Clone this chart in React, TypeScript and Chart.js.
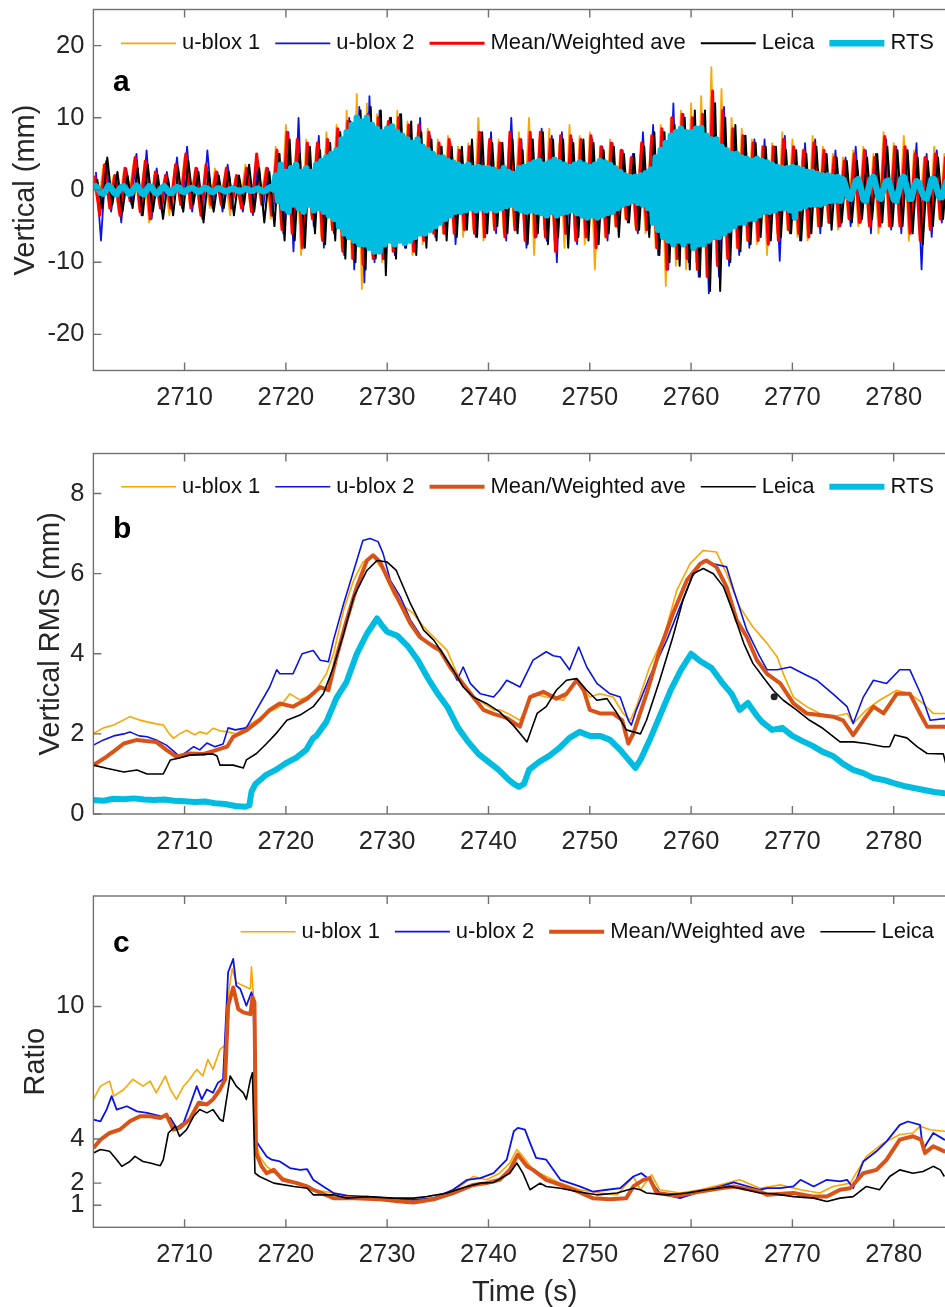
import React, { useEffect, useRef } from "react";
import { Chart, registerables } from "chart.js";
Chart.register(...registerables);

const FONT = '"Liberation Sans", Arial, Helvetica, sans-serif';

// ---------- shared time axis ----------
const timeStart = 2701;
const timeEnd = 2786.15;
const timeTicks = [2710, 2720, 2730, 2740, 2750, 2760, 2770, 2780];

// ---------- panel a: vertical displacement (mm) ----------
// GNSS series: one sample every 0.5 s; each receiver has its own first epoch
const vertStep = 0.5;
const vertStartUblox1 = 2701.0;
const vertStartUblox2 = 2701.25;
const vertStartMean = 2701.12;
const vertStartLeica = 2701.37;
// RTS series: one sample every 0.25 s from 2701 s
const vertStartRTS = 2701.0;
const vertStepRTS = 0.25;

const vertUblox1 = [
  1.0, -2.0, 3.5, -1.5, 2.0, -3.0, 2.5, -1.0, 4.0, -2.5, 3.0, -4.5, 2.0, -2.0, 1.5, -3.5, 3.0, -1.5, 4.5, -2.0,
  2.5, -3.0, 1.5, -2.5, 3.0, -1.0, 2.0, -3.5, 1.5, -2.0, 3.5, -2.5, 2.0, -1.5, 3.0, -4.0,
  6.0, -5.0, 9.0, -4.0, 5.5, -9.0, 7.0, -3.5, 6.0, -6.5, 8.0, -5.0,
  9.0, -8.0, 11.0, -9.5, 13.3, -13.7, 12.0, -9.0, 10.5, -10.0, 9.0, -8.5, 11.0, -7.0, 9.5, -9.0, 8.0, -7.5, 8.5, -6.0, 7.0,
  -6.0, 7.5, -5.0, 6.0, -6.5, 6.5, -5.5, 10.0, -7.0, 6.5,
  -5.0, 7.0, -6.0, 6.0, -5.0, 8.0, -4.5, 10.0, -9.0, 7.0, -5.5, 8.5, -7.0, 6.5, -8.0, 9.0, -6.0, 7.5, -7.5, 8.0,
  -11.0, 6.0, -6.5, 7.0, -5.0, 5.5, -4.0, 4.5, -5.0, 5.0, -6.0, 6.5,
  -8.0, 9.0, -13.3, 10.0, -10.5, 11.0, -11.0, 12.0, -10.0, 13.0, -12.0, 17.0, -10.0, 14.0, -9.0, 10.0, -8.0, 8.5, -7.0, 7.0,
  -7.5, 6.0, -9.0, 6.5, -6.0, 8.0, -5.5, 7.0, -6.5, 5.5, -7.0, 7.5, -5.0, 6.0, -4.5, 5.0, -5.5, 4.5,
  -4.0, 5.5, -5.0, 6.0, -4.5, 5.0, -6.0, 8.0, -5.0, 6.5, -4.5, 7.5, -7.0, 5.5, -4.0, 4.5, -5.0, 6.0, -4.0, 5.0, -3.5, 4.0,
];
const vertUblox2 = [
  2.5, -7.0, 4.0, -3.0, 2.0, -4.5, 3.0, -2.0, 5.0, -3.5, 5.5, -4.0, 3.0, -3.0, 2.5, -2.0, 4.5, -2.5, 6.0, -3.0,
  3.0, -4.0, 5.5, -2.5, 2.5, -3.0, 3.5, -1.5, 2.0, -3.0, 2.5, -3.5, 4.0, -2.5, 3.0, -3.0,
  5.0, -6.0, 8.0, -8.5, 10.0, -7.0, 6.0, -5.0, 7.5, -8.0, 6.5, -6.0,
  8.0, -9.0, 10.0, -11.0, 11.5, -12.8, 13.0, -10.0, 11.0, -9.5, 10.0, -9.0, 10.5, -8.0, 9.0, -8.5, 10.0, -7.0, 7.5, -6.5, 6.0,
  -6.0, 6.5, -7.5, 5.5, -5.0, 6.0, -6.5, 7.0, -5.5, 8.0,
  -6.0, 6.5, -7.0, 10.0, -5.5, 7.0, -8.0, 6.0, -6.5, 8.5, -7.0, 7.5, -10.0, 8.0, -5.5, 7.0, -7.5, 6.5, -6.0, 7.0,
  -5.0, 6.0, -7.0, 6.5, -5.0, 5.5, -4.5, 5.0, -6.0, 8.0, -5.5, 9.0,
  -9.0, 8.0, -11.0, 12.0, -9.0, 10.5, -10.0, 10.0, -12.0, 9.5, -14.3, 11.0, -12.0, 11.5, -10.5, 8.0, -9.0, 7.5, -8.0, 7.0,
  -6.0, 7.0, -6.5, 6.0, -9.8, 7.5, -6.0, 5.5, -7.0, 6.5, -5.5, 7.0, -6.0, 5.0, -4.5, 5.5, -5.0, 4.5,
  -5.0, 6.0, -4.5, 5.5, -6.0, 5.0, -4.5, 7.0, -5.5, 6.0, -6.0, 5.5, -5.0, 6.5, -11.0, 5.0, -6.5, 5.5, -4.5, 6.0, -4.0, 5.0,
];
const vertMean = [
  2.0, -3.5, 3.5, -2.5, 2.0, -3.5, 3.0, -1.5, 4.5, -3.0, 4.0, -4.0, 2.5, -2.5, 2.0, -2.5, 3.5, -2.0, 5.0, -2.5,
  3.0, -3.5, 3.5, -2.0, 2.5, -2.0, 3.0, -2.5, 2.0, -2.5, 3.0, -3.0, 5.0, -2.0, 3.0, -3.5,
  5.5, -5.5, 8.0, -6.0, 7.0, -8.0, 6.5, -4.0, 6.5, -7.0, 7.0, -5.5,
  8.5, -8.5, 9.5, -9.5, 10.0, -10.3, 10.5, -9.5, 10.0, -9.5, 9.5, -8.5, 10.0, -7.5, 9.0, -8.5, 9.0, -7.0, 8.0, -6.0, 6.5,
  -6.0, 7.0, -6.0, 5.5, -5.5, 6.0, -6.0, 8.0, -6.5, 7.0,
  -5.5, 6.5, -6.5, 8.0, -5.5, 7.0, -7.0, 8.0, -6.5, 8.0, -6.5, 7.0, -8.5, 7.5, -6.0, 7.5, -7.0, 7.0, -6.5, 7.5,
  -8.0, 6.0, -6.5, 6.5, -5.0, 5.5, -4.0, 4.5, -5.5, 6.5, -5.5, 7.5,
  -8.0, 8.5, -11.0, 10.0, -9.5, 10.5, -9.5, 10.0, -11.0, 10.5, -12.0, 13.7, -10.5, 11.0, -9.5, 8.5, -8.0, 7.5, -7.0, 6.5,
  -7.0, 6.0, -7.5, 6.0, -7.0, 7.0, -5.5, 6.0, -6.0, 5.5, -6.5, 6.5, -5.0, 5.5, -4.5, 4.5, -5.0, 4.0,
  -4.0, 5.0, -4.5, 5.5, -5.0, 4.5, -5.0, 7.4, -5.0, 6.0, -5.0, 6.0, -6.0, 5.0, -7.0, 4.5, -5.5, 5.0, -4.0, 4.5, -3.5, 4.0,
];
const vertLeica = [
  1.5, -2.5, 4.5, -2.0, 2.5, -3.0, 2.0, -2.5, 3.0, -3.5, 3.5, -3.0, 2.0, -4.0, 1.5, -3.5, 3.0, -3.0, 4.0, -2.0,
  2.5, -4.5, 2.5, -3.0, 2.0, -2.5, 2.5, -3.5, 2.0, -2.0, 3.5, -3.0, 3.0, -4.5, 2.5, -5.0,
  5.0, -7.0, 7.0, -7.0, 5.0, -8.0, 6.0, -6.0, 5.5, -7.5, 6.5, -7.0,
  8.0, -9.5, 9.5, -10.0, 11.0, -11.0, 11.5, -9.5, 11.0, -11.8, 10.0, -9.5, 10.5, -8.0, 9.5, -9.0, 8.0, -8.0, 7.0, -7.0, 6.0,
  -7.0, 6.0, -6.5, 6.0, -5.5, 7.0, -6.5, 8.0, -6.0, 6.5,
  -5.0, 6.5, -6.0, 7.0, -6.0, 5.5, -7.5, 7.0, -6.0, 8.0, -7.5, 7.0, -6.5, 7.0, -8.0, 6.5, -6.5, 7.0, -7.0, 6.5,
  -7.5, 5.5, -6.0, 6.0, -6.5, 5.0, -4.5, 5.0, -5.5, 6.0, -6.5, 8.0,
  -9.0, 8.0, -10.0, 9.0, -10.5, 10.0, -11.0, 11.0, -12.0, 11.0, -14.0, 12.0, -14.0, 10.0, -10.0, 9.0, -8.5, 7.5, -7.5, 6.5,
  -6.5, 6.0, -7.0, 6.0, -6.5, 5.5, -6.0, 5.5, -7.0, 5.0, -6.0, 6.0, -5.0, 5.0, -5.5, 4.5, -4.5, 4.0,
  -4.5, 4.0, -4.0, 4.5, -4.0, 5.0, -4.5, 6.0, -5.0, 5.5, -5.0, 5.5, -6.0, 4.5, -7.5, 4.0, -5.0, 4.5, -4.0, 4.0, -3.5, 3.5,
];
const vertRTS = [
  // 2701 - 2710
  0.3, 0.5, 0.1, -0.4, -0.5, 0.0, 0.6, 0.3, -0.3, -0.6, -0.1, 0.4, 0.5, 0.0, -0.5, -0.4, 0.2, 0.6, 0.2, -0.4,
  -0.6, 0.0, 0.5, 0.4, -0.2, -0.5, -0.2, 0.3, 0.5, 0.1, -0.4, -0.4, 0.1, 0.4, 0.3, -0.2, -0.3,
  // 2710.25 - 2718.75
  0.0, 0.2, 0.3, 0.1, -0.2, -0.2, 0.1, 0.3, 0.2, -0.1, -0.3, -0.1, 0.2, 0.2, 0.0, -0.2, -0.1, 0.1, 0.2, 0.1,
  -0.1, -0.2, 0.0, 0.2, 0.1, -0.1, -0.1, 0.1, 0.2, 0.0, -0.2, -0.1, 0.2, 0.4, 0.1,
  // 2719 - 2724.75
  2.0, -1.5, 3.5, -2.5, 2.5, -3.0, 3.0, -2.0, 3.5, -2.5, 2.5, -3.0, 3.0, -2.0, 2.5, -2.8, 3.5, -2.5, 4.0, -3.0,
  4.5, -3.5, 5.0, -4.0,
  // 2725 - 2735
  5.5, -5.0, 7.0, -6.0, 8.0, -6.5, 9.0, -7.0, 10.0, -7.5, 9.5, -7.5, 10.0, -8.0, 9.0, -8.5, 8.5, -8.5, 8.0, -7.5,
  8.5, -7.0, 8.8, -7.5, 8.0, -7.0, 7.5, -7.3, 7.0, -7.0, 6.5, -6.5, 7.0, -6.0, 6.0, -6.0, 5.5, -5.5, 5.0, -5.0, 4.5,
  // 2735.25 - 2740
  -4.5, 4.5, -4.0, 4.0, -3.5, 3.8, -3.0, 3.5, -3.0, 3.2, -2.8, 3.5, -2.5, 3.0, -2.8, 3.2, -2.5, 3.0, -2.8, 3.0,
  // 2740.25 - 2756
  -2.5, 2.8, -2.8, 2.5, -2.5, 3.0, -2.2, 2.5, -2.0, 2.2, -2.5, 3.0, -2.8, 3.2, -3.0, 3.5, -2.8, 3.8, -3.0, 4.0,
  -3.2, 3.5, -3.5, 3.8, -3.0, 4.2, -3.5, 3.8, -3.2, 3.5, -3.0, 3.2, -2.8, 3.5, -3.2, 3.8, -3.5, 3.5, -3.8, 3.2,
  -3.5, 3.5, -3.8, 4.0, -3.5, 3.8, -3.2, 3.5, -3.0, 3.0,
  -2.5, 2.5, -2.0, 2.0, -1.8, 1.8, -1.5, 1.8, -1.8, 2.0, -2.0, 2.3, -2.5, 2.8,
  // 2756.25 - 2766
  -4.5, 4.5, -5.5, 5.5, -6.5, 6.5, -7.0, 7.5, -7.5, 8.0, -7.0, 8.5, -7.5, 8.0, -7.0, 8.0, -8.0, 8.5, -7.5, 8.6,
  -7.5, 7.5, -7.0, 7.0, -6.5, 7.0, -6.5, 6.0, -6.0, 5.5, -5.5, 5.0, -5.0, 5.0, -4.5, 4.5, -4.5, 4.3, -4.0, 4.0,
  // 2766.25 - 2775
  -4.0, 4.3, -3.5, 4.0, -3.0, 3.8, -3.0, 3.5, -2.8, 3.2, -2.5, 3.0, -2.5, 3.0, -2.8, 3.2, -3.8, 3.0, -2.5, 2.8,
  -2.2, 2.5, -2.0, 2.5, -2.0, 2.2, -2.0, 2.0, -1.8, 2.0, -1.5, 1.8, -1.5, 1.8, -1.5, 1.5,
  // 2775.25 - 2786
  0.5, -1.0, -1.2, 0.0, 1.2, 1.5, 0.3, -1.3, -1.5, 0.0, 1.5, 1.8, 0.5, -1.0, -1.2, 0.2, 1.2, 1.3, 0.0, -1.3,
  -1.5, -0.2, 1.5, 1.8, 0.5, -1.2, -1.2, 0.3, 1.2, 1.0, -0.2, -1.0, -1.2, 0.0, 1.5, 1.5, 0.2, -1.0, -1.0, 0.2,
  1.2, 0.8, -0.5, -0.8,
];
const vertTicks = [-20, -10, 0, 10, 20];

// ---------- panel b: vertical RMS (mm), [time s, value] ----------
const rmsUblox1: [number, number][] = [
  [2701, 2.01], [2702, 2.15], [2703, 2.22], [2704, 2.35], [2704.6, 2.43], [2705.5, 2.35], [2706.3, 2.3], [2707.2, 2.25],
  [2707.9, 2.22], [2708.5, 2.0], [2708.9, 1.89], [2709.5, 2.0], [2710.2, 2.09], [2711, 1.98], [2711.5, 2.05], [2712.2, 2.0],
  [2712.8, 2.14], [2713.5, 2.08], [2714.2, 2.05], [2715.1, 2.0], [2716.1, 2.18], [2717.1, 2.34], [2718.1, 2.51], [2719.4, 2.68],
  [2720.4, 3.0], [2721.4, 2.85], [2722.7, 3.0], [2724, 3.5], [2724.7, 4.0], [2725.7, 5.09], [2726.7, 5.84], [2727.6, 6.29],
  [2728.6, 6.42], [2729.6, 6.08], [2730.6, 5.5], [2731.3, 5.25], [2732.6, 5.0], [2733.6, 4.67], [2734.6, 4.42], [2735.9, 4.09],
  [2736.9, 3.5], [2738.2, 3.0], [2739.5, 2.76], [2740.5, 2.6], [2741.1, 2.6], [2742, 2.5], [2743.1, 2.34], [2744.4, 3.0],
  [2745.7, 2.92], [2747.4, 2.84], [2748.7, 3.38], [2750, 2.92], [2751, 3.0], [2752.3, 2.92], [2753.3, 2.51], [2754, 2.34],
  [2754.6, 2.68], [2755.9, 3.67], [2757.3, 4.42], [2758.6, 5.59], [2759.9, 6.25], [2761.2, 6.58], [2762.5, 6.54], [2763.5, 6.0],
  [2764.8, 5.17], [2766.1, 4.67], [2767.5, 4.26], [2768.5, 3.92], [2769.1, 3.5], [2770.1, 2.92], [2771.4, 2.68], [2772.7, 2.51],
  [2774, 2.43], [2775.4, 2.51], [2776, 2.26], [2777.3, 2.6], [2778.6, 2.84], [2780.3, 3.09], [2781.6, 3.0], [2782.9, 2.76],
  [2783.9, 2.51], [2785, 2.51], [2786, 2.5],
];
const rmsUblox2: [number, number][] = [
  [2701, 1.72], [2702, 1.85], [2703, 1.95], [2704, 2.0], [2704.6, 2.05], [2705.5, 1.95], [2706.3, 1.93], [2707.2, 1.85],
  [2708.2, 1.72], [2709, 1.55], [2709.5, 1.43], [2710.2, 1.55], [2710.9, 1.68], [2711.5, 1.6], [2712.2, 1.77], [2713, 1.68],
  [2713.8, 1.75], [2714.3, 2.15], [2715, 2.1], [2716.1, 2.15], [2717.1, 2.6], [2718.4, 3.17], [2719.1, 3.6], [2719.4, 3.5],
  [2720.7, 3.5], [2721.6, 4.0], [2722.7, 4.08], [2723.4, 3.84], [2724.2, 3.8], [2724.7, 4.34], [2725.7, 5.25], [2726.7, 6.08],
  [2727.6, 6.83], [2728.3, 6.88], [2729.1, 6.8], [2729.6, 6.5], [2730.3, 5.84], [2731.3, 5.42], [2732.3, 4.84], [2733.6, 4.34],
  [2734.9, 4.17], [2735.9, 3.84], [2736.9, 3.34], [2737.5, 3.67], [2738.2, 3.26], [2739.2, 3.0], [2740.5, 2.92], [2741.1, 3.09],
  [2741.8, 3.34], [2742.5, 3.25], [2743.1, 3.17], [2744.4, 3.84], [2745.7, 4.05], [2746.4, 3.95], [2747.1, 3.92], [2748, 3.6],
  [2748.9, 4.17], [2749.7, 3.67], [2750.7, 3.26], [2752, 3.0], [2753, 2.92], [2753.8, 2.34], [2754.1, 2.22], [2754.6, 2.6],
  [2755.9, 3.42], [2757.6, 4.34], [2758.9, 5.17], [2760.1, 5.92], [2761.2, 6.33], [2762.2, 6.25], [2763.5, 6.17], [2764.2, 5.59],
  [2765.5, 4.59], [2766.8, 3.92], [2767.5, 3.6], [2768.5, 3.6], [2769.8, 3.67], [2771.1, 3.5], [2772.4, 3.34], [2774, 3.0],
  [2775.4, 2.68], [2776, 2.26], [2777, 2.92], [2778, 3.34], [2779.3, 3.26], [2780.6, 3.6], [2781.6, 3.6], [2782.8, 2.92],
  [2783.6, 2.34], [2785, 2.38], [2786, 2.4],
];
const rmsMean: [number, number][] = [
  [2701, 1.22], [2702.3, 1.43], [2703.2, 1.6], [2704, 1.76], [2705.3, 1.85], [2706.2, 1.82], [2707.2, 1.8], [2708.2, 1.6],
  [2709.2, 1.43], [2710.5, 1.51], [2711.9, 1.5], [2713.2, 1.6], [2714.2, 1.68], [2714.8, 1.93], [2716.1, 2.09], [2717.4, 2.34],
  [2718.4, 2.6], [2719.4, 2.76], [2720.7, 2.68], [2722.1, 2.88], [2723.4, 3.17], [2724.2, 3.09], [2725, 3.92], [2726, 4.84],
  [2727, 5.67], [2728, 6.33], [2728.6, 6.46], [2729.3, 6.29], [2730.3, 5.75], [2731.3, 5.25], [2732.3, 4.75], [2733.2, 4.42],
  [2734.6, 4.17], [2735.2, 4.09], [2736.2, 3.67], [2737.2, 3.34], [2738.5, 2.92], [2739.5, 2.6], [2740.5, 2.5], [2741.8, 2.4],
  [2743.1, 2.18], [2744.1, 2.92], [2745.4, 3.05], [2746.7, 2.88], [2747.7, 3.0], [2748.7, 3.34], [2749.4, 3.09], [2750, 2.6],
  [2751, 2.51], [2752.3, 2.51], [2753.2, 2.34], [2753.8, 1.76], [2754.3, 2.01], [2755.6, 3.0], [2756.9, 4.09], [2758.2, 5.0],
  [2759.6, 5.84], [2760.9, 6.25], [2761.5, 6.33], [2762.5, 6.17], [2763.5, 5.67], [2764.5, 4.84], [2765.5, 4.42], [2766.5, 3.84],
  [2767.5, 3.5], [2768.8, 3.26], [2770.1, 2.76], [2771.4, 2.51], [2772.7, 2.47], [2774, 2.43], [2775, 2.34], [2776, 1.97],
  [2777, 2.34], [2778, 2.68], [2779, 2.51], [2780.3, 3.0], [2781.6, 3.0], [2782.6, 2.51], [2783.3, 2.18], [2785, 2.18],
  [2786, 2.1],
];
const rmsLeica: [number, number][] = [
  [2701, 1.22], [2702.3, 1.14], [2704, 1.05], [2705.3, 1.1], [2706.3, 1.0], [2707.9, 1.0], [2708.6, 1.35], [2709.5, 1.4],
  [2710.5, 1.47], [2712.8, 1.5], [2713.2, 1.45], [2713.5, 1.22], [2714.8, 1.22], [2715.8, 1.15], [2716.1, 1.35], [2717.1, 1.51],
  [2718.1, 1.76], [2719, 2.0], [2720.1, 2.34], [2721.4, 2.47], [2722.7, 2.68], [2723.7, 3.0], [2724.7, 3.67], [2725.7, 4.5],
  [2726.7, 5.42], [2728, 6.08], [2729, 6.33], [2730, 6.29], [2730.9, 6.08], [2732.3, 5.25], [2733.6, 4.59], [2734.6, 4.34],
  [2735.5, 4.0], [2736.5, 3.6], [2737.5, 3.17], [2738.5, 2.92], [2739.8, 2.76], [2741.1, 2.55], [2742.5, 2.2], [2743.8, 1.8],
  [2744.8, 2.51], [2745.7, 2.68], [2746.7, 3.09], [2747.7, 3.34], [2748.7, 3.38], [2749.7, 3.09], [2750.7, 2.84], [2751.7, 2.88],
  [2752.7, 2.51], [2753.6, 2.1], [2755, 2.0], [2755.6, 2.34], [2756.9, 3.34], [2758.2, 4.42], [2759.2, 5.34], [2760.2, 6.0],
  [2761.2, 6.13], [2762.2, 6.0], [2763.2, 5.67], [2764.2, 5.0], [2765.2, 4.26], [2766.1, 3.76], [2767.1, 3.42], [2768.1, 3.09],
  [2769.1, 2.84], [2770.4, 2.6], [2771.7, 2.34], [2773, 2.14], [2774.7, 1.8], [2776, 1.8], [2777.3, 1.76], [2779, 1.68],
  [2779.6, 1.68], [2780.1, 1.97], [2781.3, 1.9], [2782.3, 1.68], [2783.3, 1.51], [2784.9, 1.5], [2785.2, 1.2],
];
const rmsRTS: [number, number][] = [
  [2701, 0.35], [2702, 0.33], [2703, 0.38], [2704, 0.37], [2705, 0.39], [2706, 0.36], [2707, 0.35], [2708, 0.36],
  [2709, 0.33], [2710, 0.32], [2711, 0.3], [2712, 0.31], [2713, 0.27], [2714, 0.25], [2715, 0.2], [2716, 0.18],
  [2716.4, 0.22], [2716.6, 0.55], [2717, 0.75], [2718, 0.97], [2719, 1.1], [2720, 1.27], [2721, 1.4], [2722, 1.6],
  [2722.7, 1.9], [2723, 1.95], [2724, 2.3], [2725, 2.9], [2726, 3.3], [2727, 4.0], [2728, 4.5], [2729, 4.88],
  [2729.5, 4.7], [2730, 4.55], [2731, 4.45], [2732, 4.2], [2733, 3.85], [2734, 3.4], [2735, 3.0], [2736, 2.65],
  [2737, 2.15], [2738, 1.8], [2739, 1.5], [2740, 1.3], [2741, 1.1], [2742, 0.85], [2742.5, 0.75], [2743, 0.68],
  [2743.5, 0.75], [2744, 1.1], [2745, 1.3], [2746, 1.45], [2747, 1.65], [2748, 1.9], [2749, 2.05], [2750, 1.95],
  [2751, 1.95], [2752, 1.85], [2753, 1.6], [2754, 1.3], [2754.5, 1.15], [2755, 1.35], [2756, 1.9], [2757, 2.5],
  [2758, 3.1], [2759, 3.6], [2760, 4.0], [2761, 3.8], [2762, 3.65], [2763, 3.3], [2764, 3.0], [2764.8, 2.6],
  [2765.6, 2.77], [2766.5, 2.45], [2767, 2.3], [2768, 2.1], [2769, 2.15], [2770, 1.95], [2771, 1.82], [2772, 1.7],
  [2773, 1.55], [2774, 1.45], [2775, 1.25], [2776, 1.1], [2777, 1.02], [2778, 0.9], [2779, 0.85], [2780, 0.77],
  [2781, 0.7], [2782, 0.65], [2783, 0.6], [2784, 0.55], [2785, 0.52], [2786, 0.5],
];
const rmsMarker: [number, number][] = [[2768.2, 2.93]];
const rmsTicks = [0, 2, 4, 6, 8];

// ---------- panel c: ratio, [time s, value] ----------
const ratioUblox1: [number, number][] = [
  [2701, 5.79], [2701.7, 6.39], [2702.6, 6.62], [2703, 5.94], [2704, 6.24], [2704.9, 6.7], [2705.9, 6.39], [2706.6, 6.62],
  [2707.2, 6.09], [2708.1, 6.85], [2708.6, 6.24], [2709.2, 5.79], [2709.9, 6.39], [2710.5, 6.7], [2711.2, 7.15], [2711.8, 6.85],
  [2712.3, 7.6], [2712.8, 7.15], [2713.5, 8.06], [2714, 8.24], [2714.3, 10.48], [2714.7, 11.7], [2715.1, 11.09], [2715.8, 10.94],
  [2716.5, 10.79], [2716.6, 11.79], [2716.8, 10.5], [2717, 3.97], [2717.4, 3.21], [2718.1, 2.76], [2719.4, 2.3], [2721.1, 2.0],
  [2722.7, 1.7], [2724.7, 1.55], [2726.7, 1.39], [2728.6, 1.36], [2730.6, 1.24], [2732.6, 1.17], [2733.6, 1.2], [2735.2, 1.39],
  [2736.5, 1.62], [2738.5, 2.3], [2739.8, 2.15], [2741.1, 2.45], [2742.1, 2.91], [2742.8, 3.52], [2743.4, 3.21], [2744.4, 2.6],
  [2745.7, 2.3], [2747.1, 2.0], [2749, 1.7], [2751, 1.55], [2752.7, 1.47], [2754.3, 2.3], [2755, 1.7], [2756.1, 2.38],
  [2756.9, 1.7], [2758.9, 1.55], [2760.9, 1.7], [2762.9, 1.92], [2764.8, 2.15], [2766.8, 1.77], [2768.8, 1.92], [2770.8, 1.7],
  [2772.7, 1.55], [2774, 1.85], [2775.7, 2.0], [2777.3, 3.21], [2779, 3.82], [2780.6, 4.2], [2781.9, 4.27], [2782.6, 4.58],
  [2783.6, 4.42], [2785, 4.35], [2786, 4.3],
];
const ratioUblox2: [number, number][] = [
  [2701, 4.88], [2701.7, 4.8], [2702.3, 5.33], [2702.8, 5.94], [2703.3, 5.33], [2704.3, 5.48], [2705.3, 5.25], [2706.3, 5.18],
  [2707.6, 5.03], [2708.6, 4.95], [2709.2, 4.5], [2709.9, 4.73], [2710.5, 5.48], [2711.2, 6.39], [2711.7, 5.79], [2712.2, 6.24],
  [2712.8, 6.09], [2713.3, 6.55], [2713.8, 6.7], [2714.3, 11.55], [2714.8, 12.15], [2715.1, 10.94], [2715.5, 10.79], [2716.1, 10.03],
  [2716.6, 10.64], [2716.8, 10.3], [2717, 3.97], [2717.4, 3.67], [2718.1, 3.21], [2718.6, 3.06], [2719.4, 2.98], [2720.4, 2.68],
  [2721.4, 2.6], [2722.1, 2.63], [2722.7, 2.15], [2723.7, 1.85], [2724.7, 1.55], [2726, 1.43], [2728, 1.39], [2730, 1.32],
  [2732.6, 1.24], [2734.6, 1.32], [2736.5, 1.7], [2737.9, 2.15], [2739.2, 2.23], [2740.5, 2.45], [2741.8, 3.06], [2742.5, 4.35],
  [2742.9, 4.5], [2743.6, 4.42], [2744.1, 3.82], [2744.7, 3.14], [2745.7, 3.06], [2747.1, 2.15], [2749, 1.85], [2750.3, 1.62],
  [2751.7, 1.7], [2753, 1.77], [2754.3, 2.3], [2755.1, 2.45], [2755.9, 2.15], [2756.9, 1.55], [2758.9, 1.32], [2760.9, 1.62],
  [2762.9, 1.85], [2764.2, 2.03], [2766.8, 1.7], [2767.5, 1.77], [2768.8, 1.77], [2770.1, 1.85], [2770.8, 2.15], [2772.1, 1.85],
  [2773.4, 2.15], [2774.7, 2.08], [2775.4, 2.15], [2776, 1.77], [2777, 2.98], [2778.3, 3.44], [2779.3, 3.89], [2780.6, 4.64],
  [2781.4, 4.79], [2782.6, 4.64], [2782.9, 3.52], [2783.9, 4.27], [2785, 3.97], [2786, 3.9],
];
const ratioMean: [number, number][] = [
  [2701, 3.59], [2701.7, 3.97], [2702.6, 4.27], [2703.6, 4.42], [2704.6, 4.8], [2705.6, 5.03], [2706.6, 5.03], [2707.6, 4.95],
  [2708.2, 5.1], [2708.9, 4.42], [2709.5, 4.5], [2710.5, 4.88], [2711.4, 5.64], [2712.2, 5.56], [2712.8, 5.79], [2713.5, 6.24],
  [2714, 6.7], [2714.3, 10.03], [2714.8, 10.86], [2715.3, 9.88], [2715.8, 9.73], [2716.5, 9.65], [2716.7, 10.41], [2716.9, 10.2],
  [2717.05, 3.36], [2717.6, 2.76], [2718.1, 2.45], [2718.8, 2.6], [2719.7, 2.15], [2721.1, 2.0], [2722.1, 1.85], [2722.7, 1.7],
  [2724.7, 1.32], [2726.7, 1.32], [2729.3, 1.27], [2731.3, 1.17], [2732.6, 1.12], [2734.6, 1.27], [2736.5, 1.55], [2738.5, 1.92],
  [2739.8, 2.0], [2741.1, 2.15], [2742.1, 2.6], [2742.9, 3.29], [2743.8, 2.76], [2744.4, 2.6], [2745.7, 2.15], [2747.1, 1.92],
  [2748.4, 1.7], [2750.3, 1.32], [2752, 1.27], [2753.6, 1.32], [2754.3, 1.85], [2755.3, 2.15], [2755.9, 2.23], [2756.6, 1.55],
  [2758.6, 1.43], [2760.9, 1.62], [2762.9, 1.77], [2764.2, 1.85], [2766.8, 1.62], [2767.5, 1.47], [2770.1, 1.55], [2772.1, 1.39],
  [2773.4, 1.39], [2774.7, 1.7], [2775.7, 1.77], [2777, 2.45], [2778.3, 2.6], [2779.3, 3.06], [2780.6, 3.97], [2781.9, 4.12],
  [2782.7, 3.97], [2783.1, 3.36], [2783.9, 3.67], [2785, 3.44], [2786, 3.4],
];
const ratioLeica: [number, number][] = [
  [2701, 3.36], [2701.7, 3.52], [2702.6, 3.44], [2703.3, 3.06], [2703.8, 2.76], [2704.6, 2.98], [2705.1, 3.21], [2705.9, 2.98],
  [2706.6, 2.91], [2707.6, 2.79], [2707.9, 3.06], [2708.4, 4.27], [2709.1, 4.58], [2709.5, 4.12], [2710.2, 4.42], [2710.9, 5.03],
  [2711.5, 5.33], [2712.2, 5.18], [2712.8, 5.33], [2713.5, 4.88], [2713.8, 4.8], [2714.5, 6.85], [2715.1, 6.39], [2715.8, 6.09],
  [2716.1, 5.79], [2716.5, 6.7], [2716.7, 7.0], [2716.95, 2.45], [2717.4, 2.3], [2718.8, 2.0], [2720.8, 1.85], [2722.1, 1.77],
  [2722.7, 1.47], [2724.7, 1.47], [2726, 1.32], [2728, 1.39], [2730.6, 1.32], [2732.6, 1.32], [2733.9, 1.39], [2735.9, 1.55],
  [2737.9, 1.85], [2739.2, 2.0], [2740.5, 2.03], [2742.1, 2.45], [2742.8, 2.91], [2743.4, 2.45], [2744.1, 1.7], [2745.1, 2.0],
  [2745.7, 1.85], [2747.1, 1.77], [2748.7, 1.62], [2750.7, 1.47], [2752.7, 1.55], [2754.3, 1.77], [2755, 1.7], [2755.6, 1.55],
  [2757.6, 1.47], [2759.6, 1.55], [2761.5, 1.7], [2763.8, 1.85], [2764.8, 1.77], [2766.8, 1.55], [2768.1, 1.52], [2770.1, 1.39],
  [2772.1, 1.32], [2773.4, 1.17], [2774.7, 1.32], [2776, 1.39], [2777.3, 1.85], [2778.6, 1.7], [2779.6, 2.3], [2780.6, 2.6],
  [2781.9, 2.45], [2782.9, 2.53], [2783.9, 2.76], [2784.6, 2.6], [2785, 2.3],
];
const ratioTicks = [1, 2, 4, 10];

// ---------- styling ----------
const C_UBLOX1 = "#FFA500";
const C_UBLOX2 = "#0A14E6";
const C_MEAN_A = "#FF0000";
const C_MEAN = "#D95319";
const C_LEICA = "#000000";
const C_RTS = "#00BCE0";
const AXIS_COLOR = "#707070";
const TEXT_COLOR = "#262626";

type Pt = { x: number; y: number };
const fromSeries = (vals: number[], start: number, step: number): Pt[] =>
  vals.map((v, i) => ({ x: start + i * step, y: v }));
const fromPairs = (pairs: [number, number][]): Pt[] => pairs.map(([x, y]) => ({ x, y }));

interface SeriesSpec {
  label: string;
  color: string;
  width: number;
  points: Pt[];
  order: number;
  legend: boolean;
  dot?: boolean;
}
interface PanelSpec {
  top: number;
  height: number;
  padTop: number;
  xAxisH: number;
  yMin: number;
  yMax: number;
  yTicks: number[];
  yTitle: string;
  yTitlePad: number;
  xTitle?: string;
  xTitlePad?: number;
  letter: string;
  letterY: number;
  legendY: number;
  series: SeriesSpec[];
}

const panels: PanelSpec[] = [
  {
    top: 0, height: 440, padTop: 9.5, xAxisH: 69.5, yMin: -25, yMax: 25, yTicks: vertTicks,
    yTitle: "Vertical (mm)", yTitlePad: 9, letter: "a", letterY: 81.2, legendY: 33.8,
    series: [
      { label: "u-blox 1", color: C_UBLOX1, width: 1.8, points: fromSeries(vertUblox1, vertStartUblox1, vertStep), order: 5, legend: true },
      { label: "u-blox 2", color: C_UBLOX2, width: 1.8, points: fromSeries(vertUblox2, vertStartUblox2, vertStep), order: 4, legend: true },
      { label: "Mean/Weighted ave", color: C_MEAN_A, width: 3, points: fromSeries(vertMean, vertStartMean, vertStep), order: 3, legend: true },
      { label: "Leica", color: C_LEICA, width: 2, points: fromSeries(vertLeica, vertStartLeica, vertStep), order: 2, legend: true },
      { label: "RTS", color: C_RTS, width: 6.5, points: fromSeries(vertRTS, vertStartRTS, vertStepRTS), order: 1, legend: true },
    ],
  },
  {
    top: 440, height: 440, padTop: 13.5, xAxisH: 66, yMin: 0, yMax: 9, yTicks: rmsTicks,
    yTitle: "Vertical RMS (mm)", yTitlePad: 34, letter: "b", letterY: 84.5, legendY: 33.2,
    series: [
      { label: "u-blox 1", color: C_UBLOX1, width: 1.6, points: fromPairs(rmsUblox1), order: 5, legend: true },
      { label: "u-blox 2", color: C_UBLOX2, width: 1.6, points: fromPairs(rmsUblox2), order: 4, legend: true },
      { label: "Mean/Weighted ave", color: C_MEAN, width: 4, points: fromPairs(rmsMean), order: 3, legend: true },
      { label: "Leica", color: C_LEICA, width: 1.6, points: fromPairs(rmsLeica), order: 2, legend: true },
      { label: "RTS", color: C_RTS, width: 6, points: fromPairs(rmsRTS), order: 1, legend: true },
      { label: "marker", color: "#222222", width: 1, points: fromPairs(rmsMarker), order: 0, legend: false, dot: true },
    ],
  },
  {
    top: 880, height: 440, padTop: 16, xAxisH: 92.7, yMin: 0, yMax: 15, yTicks: ratioTicks,
    yTitle: "Ratio", yTitlePad: 19, xTitle: "Time (s)", xTitlePad: 10, letter: "c", letterY: 55.7, legendY: 35.7,
    series: [
      { label: "u-blox 1", color: C_UBLOX1, width: 1.6, points: fromPairs(ratioUblox1), order: 4, legend: true },
      { label: "u-blox 2", color: C_UBLOX2, width: 1.8, points: fromPairs(ratioUblox2), order: 3, legend: true },
      { label: "Mean/Weighted ave", color: C_MEAN, width: 4, points: fromPairs(ratioMean), order: 2, legend: true },
      { label: "Leica", color: C_LEICA, width: 1.6, points: fromPairs(ratioLeica), order: 1, legend: true },
    ],
  },
];

function makeConfig(p: PanelSpec): any {
  const plugin = {
    id: "matlabAxes",
    afterDatasetsDraw(chart: any) {
      const { ctx, chartArea: ca, scales } = chart;
      ctx.save();
      ctx.strokeStyle = AXIS_COLOR;
      ctx.lineWidth = 1.4;
      ctx.strokeRect(ca.left, ca.top, ca.right - ca.left, ca.bottom - ca.top);
      const tl = 8;
      ctx.beginPath();
      for (const v of timeTicks) {
        const px = scales.x.getPixelForValue(v);
        ctx.moveTo(px, ca.bottom);
        ctx.lineTo(px, ca.bottom - tl);
        ctx.moveTo(px, ca.top);
        ctx.lineTo(px, ca.top + tl);
      }
      for (const v of p.yTicks) {
        const py = scales.y.getPixelForValue(v);
        ctx.moveTo(ca.left, py);
        ctx.lineTo(ca.left + tl, py);
        ctx.moveTo(ca.right, py);
        ctx.lineTo(ca.right - tl, py);
      }
      ctx.stroke();
      ctx.restore();
    },
    afterDraw(chart: any) {
      const { ctx, chartArea: ca } = chart;
      ctx.save();
      ctx.font = `22px ${FONT}`;
      ctx.textBaseline = "middle";
      ctx.textAlign = "left";
      const y = ca.top + p.legendY;
      let x = 934;
      const items = p.series.filter((s) => s.legend);
      for (let i = items.length - 1; i >= 0; i--) {
        const it = items[i];
        const w = ctx.measureText(it.label).width;
        const tx = x - w;
        ctx.fillStyle = "#111111";
        ctx.fillText(it.label, tx, y);
        const se = tx - 6;
        const ss = se - 55;
        ctx.strokeStyle = it.color;
        ctx.lineWidth = it.width;
        ctx.lineCap = "butt";
        ctx.beginPath();
        ctx.moveTo(ss, y);
        ctx.lineTo(se, y);
        ctx.stroke();
        x = ss - 15;
      }
      ctx.font = `bold 30px ${FONT}`;
      ctx.textBaseline = "alphabetic";
      ctx.fillStyle = "#000000";
      ctx.fillText(p.letter, 113, ca.top + p.letterY);
      ctx.restore();
    },
  };

  return {
    type: "line",
    data: {
      datasets: p.series.map((s) => ({
        label: s.label,
        data: s.points,
        borderColor: s.color,
        backgroundColor: s.color,
        borderWidth: s.width,
        pointRadius: s.dot ? 3.5 : 0,
        pointBorderWidth: 0,
        pointHoverRadius: 0,
        showLine: !s.dot,
        tension: 0,
        borderJoinStyle: "round",
        fill: false,
        order: s.order,
      })),
    },
    options: {
      responsive: false,
      animation: false,
      events: [],
      devicePixelRatio: 1,
      layout: { padding: { top: p.padTop, left: 0, right: 4, bottom: 0 } },
      plugins: { legend: { display: false }, tooltip: { enabled: false }, title: { display: false } },
      scales: {
        x: {
          type: "linear",
          min: timeStart,
          max: timeEnd,
          afterBuildTicks: (s: any) => {
            s.ticks = timeTicks.map((v) => ({ value: v }));
          },
          afterFit: (s: any) => {
            s.height = p.xAxisH;
            s.paddingLeft = 0;
            s.paddingRight = 0;
            s.paddingTop = 0;
            s.paddingBottom = 0;
          },
          grid: { display: false, drawTicks: false },
          border: { display: false },
          ticks: {
            font: { family: FONT, size: 25.5 },
            color: TEXT_COLOR,
            padding: 12.2,
            maxRotation: 0,
            autoSkip: false,
            callback: (v: any) => String(v),
          },
          title: p.xTitle
            ? { display: true, text: p.xTitle, font: { family: FONT, size: 29 }, color: TEXT_COLOR, padding: { top: 0, bottom: p.xTitlePad } }
            : { display: false },
        },
        y: {
          type: "linear",
          min: p.yMin,
          max: p.yMax,
          afterBuildTicks: (s: any) => {
            s.ticks = p.yTicks.map((v) => ({ value: v }));
          },
          afterFit: (s: any) => {
            s.width = 93.4;
            s.paddingLeft = 0;
            s.paddingRight = 0;
            s.paddingTop = 0;
            s.paddingBottom = 0;
          },
          grid: { display: false, drawTicks: false },
          border: { display: false },
          ticks: {
            font: { family: FONT, size: 25.5 },
            color: TEXT_COLOR,
            padding: 9,
            autoSkip: false,
            callback: (v: any) => String(v),
          },
          title: { display: true, text: p.yTitle, font: { family: FONT, size: 29 }, color: TEXT_COLOR, padding: { top: p.yTitlePad, bottom: 0 } },
        },
      },
    },
    plugins: [plugin],
  };
}

function Panel({ spec }: { spec: PanelSpec }) {
  const ref = useRef<HTMLCanvasElement>(null);
  useEffect(() => {
    const chart = new Chart(ref.current as HTMLCanvasElement, makeConfig(spec));
    return () => chart.destroy();
  }, [spec]);
  return (
    <canvas
      ref={ref}
      width={960}
      height={spec.height}
      style={{ position: "absolute", left: 0, top: spec.top, width: 960, height: spec.height }}
    />
  );
}

export default function App() {
  return (
    <div
      style={{
        position: "fixed",
        left: 0,
        top: 0,
        width: 945,
        height: 1307,
        overflow: "hidden",
        background: "#ffffff",
      }}
    >
      {panels.map((p) => (
        <Panel key={p.letter} spec={p} />
      ))}
    </div>
  );
}
